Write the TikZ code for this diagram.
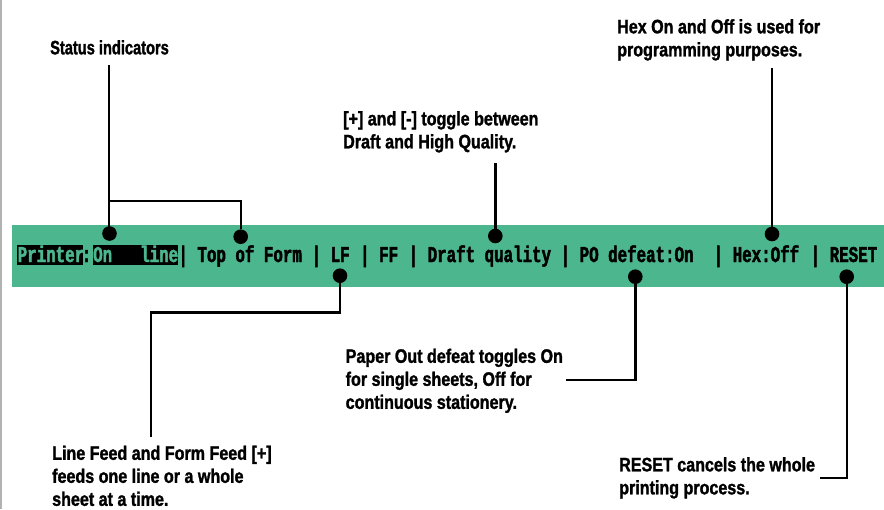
\documentclass[tikz,border=0pt]{standalone}
\usepackage{fontspec}
\setmainfont{Liberation Sans}[FakeStretch=0.825,FakeBold=1.4]
\newfontfamily\statusfont{Liberation Sans}[FakeStretch=0.75,FakeBold=1.4]
\newfontfamily\barfont{Liberation Mono}[FakeStretch=0.70,FakeBold=2.0]
\definecolor{bandgreen}{RGB}{76,182,142}
\tikzset{
  x=1pt,y=-1pt,
  callout/.style={font=\bfseries\fontsize{19.5}{23}\selectfont,align=left,anchor=north west,inner sep=0pt,text=black},
  bartext/.style={font=\barfont\bfseries\fontsize{22.6}{24}\selectfont,inner sep=0pt,anchor=base west,text=black},
  invtext/.style={bartext,text=bandgreen},
  dot/.style={circle,fill=black,inner sep=0pt,minimum size=14.6pt},
  lead/.style={line width=2.4pt,line cap=butt,line join=miter},
  leadthin/.style={line width=1.6pt}
}
\begin{document}
\begin{tikzpicture}
\useasboundingbox (0,0) rectangle (884,509);
\fill[white] (0,0) rectangle (884,509);
\fill[gray!60] (0,0) rectangle (1.5,509);
\fill[bandgreen] (12,224.5) rectangle (884,287);
\fill[black] (17,245) rectangle (83,265);
\fill[black] (93,245) rectangle (178,265);
\node[invtext] (t1) at (17.5,262) {Printer};
\node[bartext] (t2) at (81.5,262) {:};
\node[invtext] (t3) at (93,262) {On};
\node[invtext] (t3b) at (140,262) {line};
\node[bartext] (t4) at (178.3,262) {| Top of Form};
\node[bartext] (t5) at (311.5,262) {| LF};
\node[bartext] (t6) at (360,262) {| FF};
\node[bartext] (t7) at (408.5,262) {| Draft quality};
\node[bartext] (t8) at (560.5,262) {| PO defeat:On};
\node[bartext] (t9) at (713.5,262) {| Hex:Off};
\node[bartext] (t10) at (810.5,262) {| RESET};
\node[dot] (d1) at (109.5,233.5) {};
\node[dot] (d2) at (240.7,236.7) {};
\node[dot] (d3) at (340,275.7) {};
\node[dot] (d4) at (495.3,236) {};
\node[dot] (d5) at (772,234) {};
\node[dot] (d6) at (635.3,276.7) {};
\node[dot] (d7) at (846.7,276.7) {};
\node[callout] (c1) at (50,40) {\statusfont\bfseries Status indicators};
\node[callout] (c2) at (343,111) {[+] and [-] toggle between\\Draft and High Quality.};
\node[callout] (c3) at (617,19) {Hex On and Off is used for\\programming purposes.};
\node[callout] (c4) at (345.5,348.5) {Paper Out defeat toggles On\\for single sheets, Off for\\continuous stationery.};
\node[callout] (c5) at (52,445.5) {Line Feed and Form Feed [+]\\feeds one line or a whole\\sheet at a time.};
\node[callout] (c6) at (619,457) {RESET cancels the whole\\printing process.};
\coordinate (a1) at (109,65);
\coordinate (a2) at (109,201);
\coordinate (a3) at (240.7,201);
\draw[lead] (a1) -- (a1 |- d1);
\draw[leadthin] (a2) -- (a3) -- (d2);
\coordinate (b1) at (495.3,163);
\draw[lead] (b1) -- (d4);
\coordinate (e1) at (772,68);
\draw[lead] (e1) -- (d5);
\coordinate (f1) at (340,312.5);
\coordinate (f2) at (151,312.5);
\coordinate (f3) at (151,437);
\draw[lead] (d3) -- (f1) -- (f2) -- (f3);
\coordinate (g1) at (635.3,380);
\coordinate (g2) at (566,380);
\draw[lead] (d6) -- (g1) -- (g2);
\coordinate (h1) at (846.7,478);
\coordinate (h2) at (820,478);
\draw[lead] (d7) -- (h1) -- (h2);
\end{tikzpicture}
\end{document}
